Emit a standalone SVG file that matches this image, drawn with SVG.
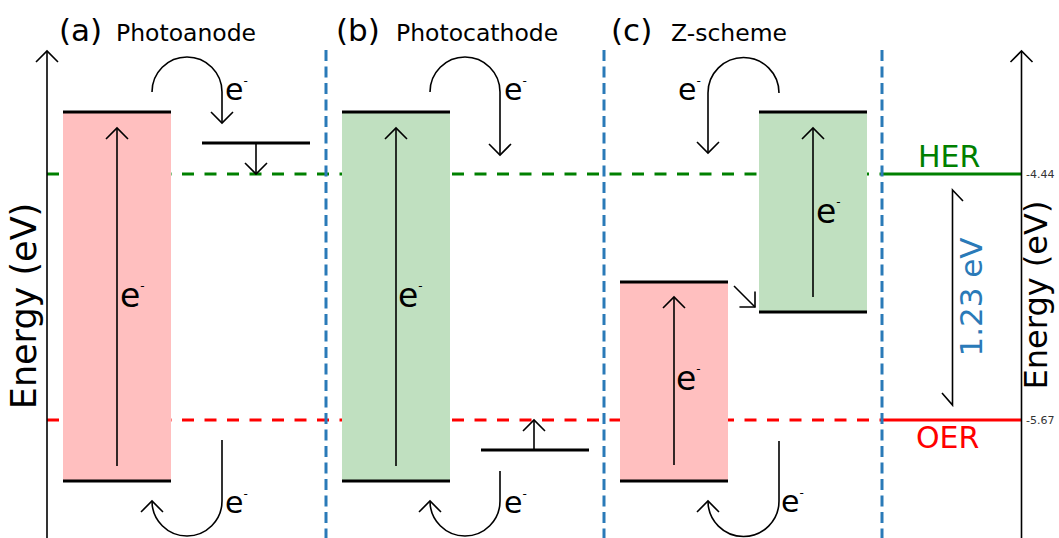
<svg xmlns="http://www.w3.org/2000/svg" width="1059" height="538" viewBox="0 0 1059 538">
<style>
text{font-family:"DejaVu Sans",Verdana,sans-serif;fill:#000}
.ln{fill:none;stroke:#000;stroke-width:1.6}
.arr{fill:none;stroke:#000;stroke-width:1.6;marker-end:url(#chev)}
.lvl{stroke:#000;stroke-width:3.2}
.red{fill:#ffbfbf}
.grn{fill:#c0e0c0}
.div{stroke:#2a7ab8;stroke-width:3;stroke-dasharray:11 5.5}
.e{font-size:30px}
.eb{font-size:33px}
.title{font-size:31px}
.sub{font-size:23.5px}
</style>
<defs>
<marker id="chev" markerUnits="userSpaceOnUse" orient="auto" overflow="visible" markerWidth="1" markerHeight="1">
<path d="M-11,-11 L0,0 L-11,11" fill="none" stroke="#000" stroke-width="1.6"/>
</marker>
</defs>
<rect width="1059" height="538" fill="#fff"/>

<g id="levels">
<line x1="47" y1="174" x2="882" y2="174" stroke="#008000" stroke-width="3.2" stroke-dasharray="12 10.5"/>
<line x1="882" y1="174" x2="1021" y2="174" stroke="#008000" stroke-width="3"/>
<line x1="47" y1="420" x2="882" y2="420" stroke="#ff0000" stroke-width="3.2" stroke-dasharray="12 10.5"/>
<line x1="882" y1="420" x2="1021" y2="420" stroke="#ff0000" stroke-width="3"/>
<text x="918" y="167" font-size="30" style="fill:#008000">HER</text>
<text x="916" y="448" font-size="30" style="fill:#ff0000">OER</text>
<text x="1026" y="178" font-size="11" style="fill:#333">-4.44</text>
<text x="1026" y="424" font-size="11" style="fill:#333">-5.67</text>
</g>

<g id="dividers">
<line class="div" x1="326" y1="50" x2="326" y2="538"/>
<line class="div" x1="604" y1="50" x2="604" y2="538"/>
<line class="div" x1="882" y1="50" x2="882" y2="538"/>
</g>

<g id="axes">
<path class="arr" d="M47,538 L47,51"/>
<path class="arr" d="M1021.5,538 L1021.5,51"/>
<text transform="translate(36,306) rotate(-90)" text-anchor="middle" font-size="35">Energy (eV)</text>
<text transform="translate(1047,295) rotate(-90)" text-anchor="middle" font-size="32">Energy (eV)</text>
</g>

<g id="panel-a">
<text x="59" y="41" class="title">(a)</text>
<text x="116" y="41" class="sub">Photoanode</text>
<rect class="red" x="63" y="112" width="108" height="369"/>
<line class="lvl" x1="63" y1="112" x2="171" y2="112"/>
<line class="lvl" x1="63" y1="481" x2="171" y2="481"/>
<line class="lvl" x1="202" y1="143" x2="310" y2="143"/>
<text x="120" y="307" class="eb">e<tspan font-size="12" dy="-17">-</tspan></text>
<text x="225" y="100" class="e">e<tspan font-size="12" dy="-15">-</tspan></text>
<text x="225" y="513" class="e">e<tspan font-size="12" dy="-15">-</tspan></text>
</g>

<g id="panel-b">
<text x="336" y="41" class="title">(b)</text>
<text x="396" y="41" class="sub">Photocathode</text>
<rect class="grn" x="342" y="112" width="108" height="369"/>
<line class="lvl" x1="342" y1="112" x2="450" y2="112"/>
<line class="lvl" x1="342" y1="481" x2="450" y2="481"/>
<line class="lvl" x1="481" y1="450" x2="589" y2="450"/>
<text x="398" y="307" class="eb">e<tspan font-size="12" dy="-17">-</tspan></text>
<text x="504" y="100" class="e">e<tspan font-size="12" dy="-15">-</tspan></text>
<text x="504" y="513" class="e">e<tspan font-size="12" dy="-15">-</tspan></text>
</g>

<g id="panel-c">
<text x="611" y="41" class="title">(c)</text>
<text x="671" y="41" class="sub">Z-scheme</text>
<rect class="red" x="620" y="282" width="108" height="199"/>
<line class="lvl" x1="620" y1="282" x2="728" y2="282"/>
<line class="lvl" x1="620" y1="481" x2="728" y2="481"/>
<rect class="grn" x="759" y="112" width="108" height="200"/>
<line class="lvl" x1="759" y1="112" x2="867" y2="112"/>
<line class="lvl" x1="759" y1="312" x2="867" y2="312"/>
<text x="676" y="390" class="eb">e<tspan font-size="12" dy="-17">-</tspan></text>
<text x="816" y="223" class="eb">e<tspan font-size="12" dy="-17">-</tspan></text>
<text x="678" y="100" class="e">e<tspan font-size="12" dy="-15">-</tspan></text>
<text x="781" y="512" class="e">e<tspan font-size="12" dy="-15">-</tspan></text>
</g>

<g id="gap">
<path class="ln" d="M963,201 L952.5,190 L952.5,405 L942,393"/>
<text transform="translate(982,297) rotate(-90)" text-anchor="middle" font-size="31" style="fill:#2a7ab8">1.23 eV</text>
</g>

<g id="connectors">
<path class="arr" d="M117,466 L117,128"/>
<path class="arr" d="M396,466 L396,128"/>
<path class="arr" d="M674,465 L674,297"/>
<path class="arr" d="M813,297 L813,128"/>
<path class="arr" d="M256,143 L256,174"/>
<path class="arr" d="M534,450 L534,420"/>
<path class="arr" d="M734,286 L755,307"/>
<path class="arr" d="M152,92 A35,35 0 0 1 222,92 L222,123"/>
<path class="arr" d="M222,440 L222,501 A35,35 0 0 1 152,501"/>
<path class="arr" d="M430,92 A35,35 0 0 1 500,92 L500,155"/>
<path class="arr" d="M500,471 L500,501 A35,35 0 0 1 430,501"/>
<path class="arr" d="M779,93 A35.5,35.5 0 0 0 708,93 L708,153"/>
<path class="arr" d="M779,441 L779,501 A35.5,35.5 0 0 1 708,501"/>
</g>
</svg>
